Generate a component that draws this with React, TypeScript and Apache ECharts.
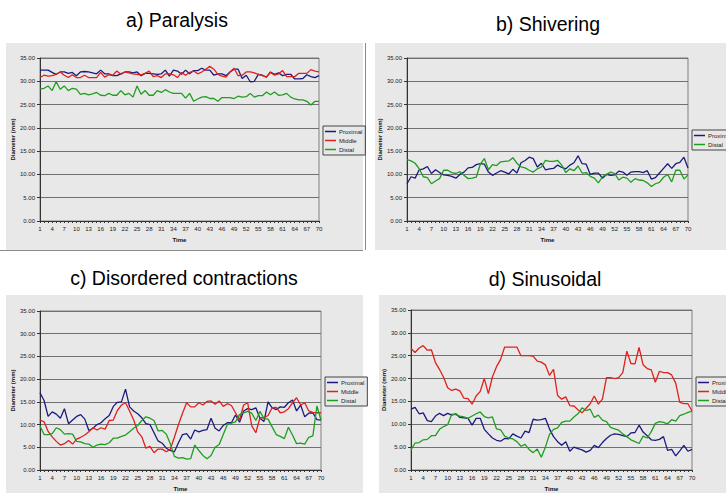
import React, { useEffect, useRef } from 'react';
import * as echarts from 'echarts';

const TIME = Array.from({ length: 70 }, (_, i) => String(i + 1));
const TITLES = ['a) Paralysis', 'b) Shivering', 'c) Disordered contractions', 'd) Sinusoidal'];

const aProximal = [32.4,32.4,32.4,31.9,31.5,32.0,32.0,31.7,31.9,31.2, 32.0,32.1,32.0,31.8,31.6,32.4,31.6,31.6,31.2,31.2, 31.6,32.0,32.0,31.8,32.0,31.2,31.7,31.7,31.6,31.5, 31.6,32.4,31.1,32.4,32.2,31.5,32.4,31.6,32.3,32.3, 32.8,32.4,32.4,31.3,31.6,31.6,31.2,32.0,32.6,32.6, 30.6,31.3,29.9,30.0,31.5,31.3,30.9,32.0,31.5,31.8, 31.2,31.5,31.5,30.5,30.5,30.6,31.4,31.0,30.8,31.2];
const aMiddle = [30.8,31.3,31.1,31.2,31.5,32.0,31.3,30.8,31.4,30.8, 30.8,31.3,30.8,30.8,30.8,31.9,30.9,31.4,31.3,32.2, 31.5,32.0,31.8,31.6,31.5,31.4,31.7,32.2,31.0,31.2, 30.8,31.6,31.6,31.4,30.8,31.9,31.3,31.9,32.2,31.6, 32.0,32.6,33.2,32.6,31.5,31.1,30.9,32.0,32.8,31.2, 31.3,32.0,32.0,31.8,31.5,31.2,30.9,31.9,31.3,31.6, 32.3,31.0,31.0,31.0,31.7,31.7,31.7,32.5,32.2,32.0];
const aDistal = [28.3,28.5,29.0,28.0,29.9,28.3,29.0,28.0,28.5,28.3, 27.2,27.4,27.1,27.3,27.6,27.0,26.9,27.4,27.0,27.0, 28.0,27.1,27.4,26.6,29.0,27.2,28.0,27.0,27.0,28.0, 27.6,28.2,27.7,27.4,27.4,27.4,26.4,27.4,25.7,26.2, 26.6,26.7,26.3,26.3,25.7,26.5,26.5,26.5,26.3,26.8, 26.6,26.7,27.4,26.6,26.9,26.9,27.7,27.1,27.7,27.0, 27.1,27.4,26.6,26.2,26.0,26.0,25.7,24.9,25.7,25.7];

const bProximal = [8.0,9.5,9.2,11.0,11.2,11.7,10.2,11.0,10.4,9.9, 9.8,9.6,9.2,10.0,10.5,11.4,11.5,12.1,12.3,12.2, 10.5,9.8,10.3,10.8,10.5,10.1,11.1,10.3,12.5,13.0, 13.7,13.4,11.6,12.4,11.0,11.2,11.3,12.0,11.5,11.2, 12.0,12.5,14.0,12.3,12.2,10.0,10.3,10.3,9.2,10.0, 9.8,9.9,10.7,10.5,9.8,10.5,10.6,10.6,10.4,10.8, 9.0,9.3,10.3,11.3,12.3,11.3,12.3,12.6,13.7,11.4];
const bDistal = [13.2,12.9,12.4,11.2,9.5,9.3,8.0,8.6,9.1,10.9, 10.9,10.4,10.2,10.6,9.8,9.1,9.2,9.4,12.2,13.4, 11.0,12.1,11.9,12.7,12.8,12.9,13.6,12.4,11.6,11.4, 10.9,10.5,11.2,11.6,13.0,12.8,12.8,13.0,12.0,10.4, 11.2,10.8,11.8,10.3,10.4,9.6,9.2,8.2,9.5,10.0, 10.5,10.2,8.8,9.4,9.2,8.3,9.1,8.8,8.7,8.2, 7.4,8.0,8.3,9.4,10.0,8.4,10.9,10.9,9.0,9.9];

const cProximal = [17.0,15.3,11.8,12.8,12.3,11.4,13.5,10.2,11.0,11.8, 12.2,11.2,8.7,9.2,10.0,10.4,11.3,12.0,14.0,14.9, 15.0,17.8,13.9,13.0,12.4,11.5,10.2,10.0,8.2,6.4, 5.9,4.8,4.3,4.0,6.0,7.8,8.0,6.8,8.8,8.4, 8.7,8.9,11.4,9.2,8.6,9.8,10.4,10.4,12.1,10.5, 13.0,13.5,13.3,13.7,11.4,10.7,15.0,13.7,13.3,13.9, 13.8,14.8,15.4,13.0,14.3,11.7,12.5,12.6,11.1,11.0];
const cMiddle = [11.0,10.6,8.5,7.3,6.3,5.5,5.8,6.5,5.7,6.8, 7.2,7.7,8.4,9.3,8.8,9.3,9.0,10.9,11.0,13.1, 14.3,14.8,13.0,11.0,8.4,7.3,4.8,5.2,3.8,4.6, 4.6,4.0,4.6,7.2,10.0,12.5,14.8,13.9,13.9,14.8, 14.3,15.1,15.2,14.5,15.2,14.0,14.6,14.2,12.6,11.0, 14.3,14.8,9.7,8.2,11.5,11.5,12.0,13.7,13.8,12.6, 12.8,13.5,14.8,15.9,14.3,14.8,13.0,12.7,12.6,12.6];
const cDistal = [9.7,7.8,7.8,8.0,9.3,8.9,7.9,8.0,7.9,6.3, 6.2,5.8,5.7,5.0,5.5,5.7,5.6,6.0,7.0,7.0, 7.4,7.7,8.4,9.2,9.8,10.9,11.7,11.4,10.9,8.6, 8.7,7.9,5.8,3.0,2.6,2.7,2.4,2.5,5.5,4.3, 3.2,2.5,3.2,5.0,5.6,7.8,10.0,10.3,10.6,12.2, 12.6,12.9,12.5,10.9,12.9,11.3,11.2,9.5,7.8,7.4, 6.9,9.4,7.7,5.8,5.9,5.7,7.2,7.5,14.1,11.0];

const dProximal = [13.3,13.7,12.3,12.5,10.8,10.6,11.8,12.4,11.9,12.4, 12.0,12.3,11.5,11.4,11.3,9.8,11.3,11.3,8.9,7.9, 7.0,6.5,6.3,6.9,6.8,7.9,7.4,7.0,8.5,8.2, 11.1,10.9,11.0,11.3,9.0,7.3,6.2,5.4,6.2,4.1, 5.0,4.7,4.4,3.9,4.3,5.4,4.9,6.0,6.9,7.6, 7.9,7.8,7.5,7.3,8.1,8.2,9.8,8.3,7.5,6.6, 6.5,6.7,7.3,4.3,4.5,3.1,4.2,5.4,4.1,4.5];
const dMiddle = [26.6,25.7,26.7,27.2,26.2,26.3,23.5,22.0,20.3,18.0, 17.4,17.7,17.3,15.7,15.6,14.4,16.2,17.2,20.0,16.7, 20.4,22.6,24.2,26.9,26.9,26.9,26.9,25.0,25.0,25.0, 24.9,23.8,23.6,23.0,20.7,22.0,16.3,15.5,16.0,14.1, 14.0,13.2,12.5,13.5,14.5,16.2,14.4,15.5,20.2,20.2, 20.0,20.2,21.3,26.0,23.3,23.2,26.8,23.0,22.2,21.9, 19.2,21.6,21.3,21.3,20.8,19.0,14.8,14.5,14.5,12.9];
const dDistal = [4.4,5.9,6.0,6.6,6.7,7.5,7.5,8.9,9.5,9.9, 12.2,12.1,11.8,11.6,11.3,11.8,12.3,12.7,11.7,11.4, 11.6,9.0,8.8,7.4,7.0,6.8,6.2,5.2,5.6,4.5, 3.8,4.6,2.8,5.0,7.8,8.9,9.2,10.4,10.7,10.7, 11.6,12.3,13.6,13.0,13.3,11.5,12.0,10.9,10.6,9.3, 9.0,8.7,7.9,7.3,6.6,6.2,5.8,7.4,7.0,8.4, 10.2,10.6,10.4,10.1,11.0,10.7,11.9,12.2,12.6,12.9];

const FONT = '"Liberation Sans", Arial, Helvetica, sans-serif';
const BG = '#e8e8e8';
const COLORS: Record<string, string> = { Proximal: '#1a1a7e', Middle: '#e0201c', Distal: '#1e9e1e' };

export default function App() {
  const ref = useRef<HTMLDivElement>(null);
  useEffect(() => {
    if (!ref.current) return;
    const chart = echarts.init(ref.current, undefined, { renderer: 'svg' });

    const grids = [
      { left: 40, top: 58, width: 279, height: 163 },
      { left: 407, top: 58, width: 281, height: 163 },
      { left: 40, top: 311, width: 281, height: 160 },
      { left: 411, top: 310, width: 281, height: 161 },
    ];
    const legendPos = [
      { left: 323, top: 126 },
      { left: 692, top: 130 },
      { left: 325, top: 377 },
      { left: 696, top: 377 },
    ];
    const titlePos = [
      { x: 177, y: 20 },
      { x: 548, y: 24 },
      { x: 184, y: 278 },
      { x: 545, y: 279 },
    ];
    const panels: { name: string; data: number[] }[][] = [
      [{ name: 'Proximal', data: aProximal }, { name: 'Middle', data: aMiddle }, { name: 'Distal', data: aDistal }],
      [{ name: 'Proximal', data: bProximal }, { name: 'Distal', data: bDistal }],
      [{ name: 'Proximal', data: cProximal }, { name: 'Middle', data: cMiddle }, { name: 'Distal', data: cDistal }],
      [{ name: 'Proximal', data: dProximal }, { name: 'Middle', data: dMiddle }, { name: 'Distal', data: dDistal }],
    ];

    const series: any[] = [];
    panels.forEach((p, idx) => {
      p.forEach((s) => {
        series.push({
          type: 'line',
          name: s.name,
          data: s.data,
          xAxisIndex: idx,
          yAxisIndex: idx,
          symbol: 'none',
          lineStyle: { color: COLORS[s.name], width: 1.3 },
          itemStyle: { color: COLORS[s.name] },
          z: 3,
        });
      });
    });

    const axisColor = '#333';
    const option: any = {
      animation: false,
      backgroundColor: '#fff',
      graphic: [
        { type: 'rect', shape: { x: 6, y: 43, width: 357, height: 207 }, style: { fill: BG }, z: -10 },
        { type: 'rect', shape: { x: 375, y: 43, width: 351, height: 207 }, style: { fill: BG }, z: -10 },
        { type: 'rect', shape: { x: 6, y: 295, width: 357, height: 198 }, style: { fill: BG }, z: -10 },
        { type: 'rect', shape: { x: 379, y: 295, width: 347, height: 198 }, style: { fill: BG }, z: -10 },
        { type: 'line', shape: { x1: 0, y1: 250.5, x2: 363, y2: 250.5 }, style: { stroke: '#8a8a8a', lineWidth: 1 }, z: -5 },
        { type: 'line', shape: { x1: 365.5, y1: 43, x2: 365.5, y2: 250 }, style: { stroke: '#8a8a8a', lineWidth: 1 }, z: -5 },
        ...TITLES.map((t, i) => ({
          type: 'text',
          x: titlePos[i].x,
          y: titlePos[i].y,
          z: 10,
          style: { text: t, fill: '#000', font: `19.5px ${FONT}`, textAlign: 'center', textVerticalAlign: 'middle' },
        })),
      ],
      grid: grids.map((g) => ({ ...g, show: true, borderColor: '#808080', borderWidth: 1, backgroundColor: 'transparent' })),
      legend: panels.map((p, idx) => ({
        orient: 'vertical',
        left: legendPos[idx].left,
        top: legendPos[idx].top,
        data: p.map((s) => s.name),
        icon: 'rect',
        itemWidth: 11,
        itemHeight: 1.5,
        itemGap: 2,
        padding: [2, 3, 2, 2],
        backgroundColor: BG,
        borderColor: '#444',
        borderWidth: 1,
        selectedMode: false,
        textStyle: { fontSize: 6, color: '#222', fontFamily: FONT, padding: [0, 0, 0, -2], lineHeight: 7 },
      })),
      xAxis: grids.map((_, idx) => ({
        type: 'category',
        gridIndex: idx,
        data: TIME,
        boundaryGap: false,
        name: 'Time',
        nameLocation: 'middle',
        nameGap: 16,
        nameTextStyle: { fontSize: 6, fontWeight: 'bold', color: '#111', fontFamily: FONT },
        axisLine: { show: true, lineStyle: { color: axisColor, width: 1 } },
        axisTick: { show: true, interval: 0, length: 2, lineStyle: { color: axisColor } },
        axisLabel: { interval: 2, fontSize: 6, margin: 5, color: '#222', fontFamily: FONT },
        splitLine: { show: false },
      })),
      yAxis: grids.map((_, idx) => ({
        type: 'value',
        gridIndex: idx,
        min: 0,
        max: 35,
        interval: 5,
        name: 'Diameter (mm)',
        nameLocation: 'middle',
        nameGap: 24,
        nameRotate: 90,
        nameTextStyle: { fontSize: 6, fontWeight: 'bold', color: '#111', fontFamily: FONT },
        axisLine: { show: true, lineStyle: { color: axisColor, width: 1 } },
        axisTick: { show: true, length: 3, lineStyle: { color: axisColor } },
        axisLabel: { fontSize: 6, margin: 5, color: '#222', fontFamily: FONT, formatter: (v: number) => v.toFixed(2) },
        splitLine: { show: true, lineStyle: { color: '#707070', width: 1 } },
      })),
      series,
    };
    chart.setOption(option);
    return () => chart.dispose();
  }, []);
  return <div ref={ref} style={{ position: 'absolute', left: 0, top: 0, width: 726, height: 493 }} />;
}
